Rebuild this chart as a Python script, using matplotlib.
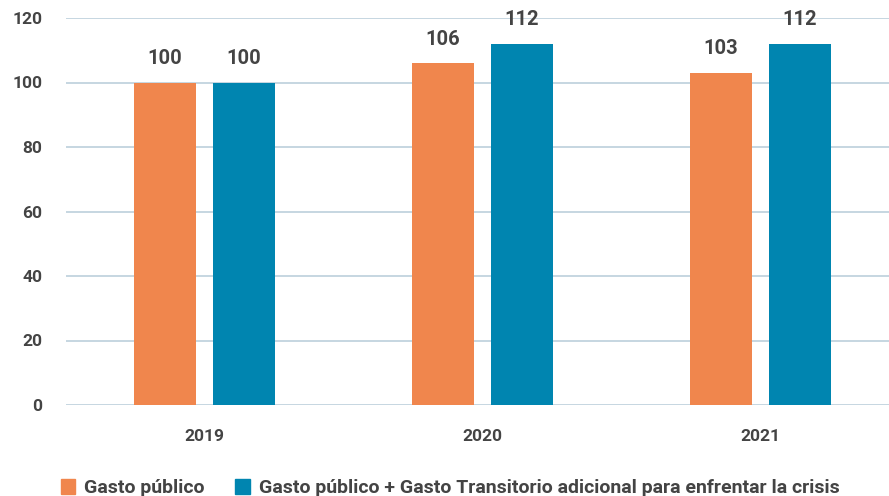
import matplotlib
matplotlib.use("Agg")
import matplotlib.pyplot as plt
from matplotlib.patches import Patch
import numpy as np

categories = ["2019", "2020", "2021"]
gasto_publico = [100, 106, 103]
gasto_total = [100, 112, 112]
series_names = ["Gasto público",
                "Gasto público + Gasto Transitorio adicional para enfrentar la crisis"]
yticks = [0, 20, 40, 60, 80, 100, 120]

c_orange = "#F0864D"
c_blue = "#0085B0"
c_text = "#444444"
c_grid = "#BCCFDC"

plt.rcParams['font.family'] = ['Roboto', 'DejaVu Sans']

fig = plt.figure(figsize=(8.89, 4.96), dpi=100)
ax = fig.add_axes([66/889, 1-405/496, 1-66/889, (405-18)/496])

x = np.arange(len(categories))
w = 0.223
off = 0.142
b1 = ax.bar(x - off, gasto_publico, w, color=c_orange, zorder=3)
b2 = ax.bar(x + off, gasto_total, w, color=c_blue, zorder=3)

for bars, vals in ((b1, gasto_publico), (b2, gasto_total)):
    for r, v in zip(bars, vals):
        ax.text(r.get_x() + r.get_width()/2, v + 4.5, f"{v}", ha="center", va="bottom",
                fontsize=14.5, fontweight="bold", color=c_text, clip_on=False)

ax.set_ylim(0, 120)
ax.set_xlim(-0.498, 2.464)
ax.set_yticks(yticks)
ax.set_xticks(x)
ax.set_xticklabels(categories)
ax.grid(axis="y", color=c_grid, linewidth=1.2, zorder=0)
for s in ax.spines.values():
    s.set_visible(False)
ax.tick_params(axis="both", length=0, labelsize=12.5, labelcolor=c_text)
ax.tick_params(axis="y", pad=17)
ax.tick_params(axis="x", pad=17)
for lab in ax.get_xticklabels() + ax.get_yticklabels():
    lab.set_fontweight("bold")

handles = [Patch(color=c_orange), Patch(color=c_blue)]
fig.legend(handles, series_names, loc="lower left", bbox_to_anchor=(43/889, -0.038),
           ncol=2, frameon=False, handlelength=0.75, handleheight=0.75,
           handletextpad=0.45, columnspacing=1.6,
           prop={"size": 14, "weight": "bold"}, labelcolor=c_text)

fig.savefig("out.png", dpi=100)
